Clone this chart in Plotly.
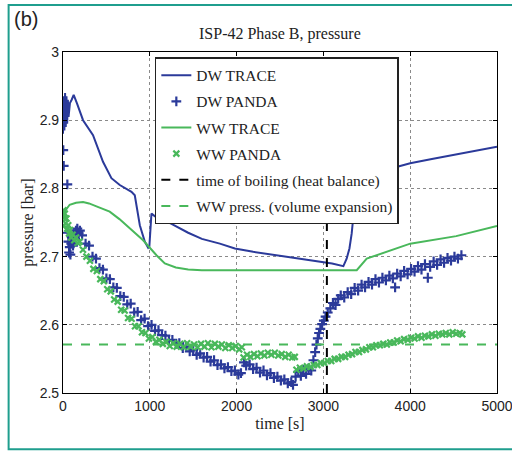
import plotly.graph_objects as go

# ---------------- data ----------------
DW_TRACE_T = [0, 8, 16, 24, 32, 40, 48, 56, 64, 80, 100, 123, 160, 231, 346, 461, 558, 654, 789, 827,
              885, 942, 981, 995, 1019, 1060, 1115, 1250, 1442, 1600, 1807, 1980, 2191, 2400, 2576,
              2800, 2999, 3100, 3230, 3268, 3300, 3326, 3364, 3400, 3450, 3600, 3800, 4000, 4250,
              4500, 4750, 5000]
DW_TRACE_P = [2.880, 2.935, 2.885, 2.940, 2.890, 2.935, 2.895, 2.930, 2.905, 2.925, 2.930, 2.937, 2.925,
              2.900, 2.878, 2.839, 2.815, 2.805, 2.795, 2.790, 2.746, 2.722, 2.713, 2.715, 2.763,
              2.759, 2.756, 2.748, 2.735, 2.726, 2.719, 2.712, 2.707, 2.703, 2.700, 2.696, 2.692,
              2.690, 2.686, 2.697, 2.712, 2.734, 2.783, 2.810, 2.817, 2.824, 2.830, 2.837, 2.843,
              2.849, 2.855, 2.861]

DW_PANDA_T = [3, 8, 50, 55, 62, 70, 78, 85, 95, 105, 115, 125, 140, 150, 165, 180, 195,
              220, 260, 300, 340, 380, 420, 460, 500, 540, 580, 620, 660, 700, 740, 780, 820, 860,
              900, 940, 980, 1020, 1060, 1100, 1140, 1180, 1220, 1260, 1300, 1340, 1380, 1420,
              1460, 1500, 1540, 1580, 1620, 1660, 1700, 1740, 1780, 1820, 1860, 1900, 1940, 1980,
              2020, 2050,
              2085, 2110, 2150, 2190, 2230, 2270, 2310, 2350, 2390, 2430, 2470, 2510, 2550, 2590,
              2630, 2650,
              2680, 2710, 2740, 2770, 2800, 2830, 2860, 2885, 2905, 2920, 2935, 2950, 2965, 2985,
              3005, 3025, 3050, 3080, 3110, 3140, 3170, 3200, 3240, 3280, 3320, 3360, 3400, 3440,
              3480, 3520, 3560, 3600, 3640, 3680, 3720, 3760, 3800, 3826, 3850, 3890, 3930, 3970,
              4010, 4050, 4090, 4130, 4170, 4203, 4230, 4270, 4310, 4350, 4390, 4430, 4470, 4510,
              4550, 4590]
DW_PANDA_P = [2.856, 2.833, 2.806, 2.735, 2.722, 2.706, 2.714, 2.703, 2.719, 2.728, 2.716, 2.733,
              2.726, 2.738, 2.741, 2.734, 2.738,
              2.731, 2.719, 2.716, 2.700, 2.697, 2.683, 2.681, 2.668, 2.667, 2.655, 2.654, 2.642,
              2.641, 2.630, 2.631, 2.618, 2.619, 2.607, 2.609, 2.598, 2.600, 2.591, 2.592, 2.585,
              2.584, 2.577, 2.578, 2.572, 2.573, 2.566, 2.568, 2.561, 2.563, 2.556, 2.558, 2.552,
              2.553, 2.546, 2.548, 2.541, 2.542, 2.536, 2.538, 2.532, 2.533, 2.527, 2.529,
              2.545, 2.540, 2.542, 2.535, 2.537, 2.530, 2.533, 2.526, 2.529, 2.522, 2.524, 2.518,
              2.520, 2.514, 2.516, 2.512,
              2.524, 2.531, 2.525, 2.534, 2.528, 2.536, 2.533, 2.548, 2.560, 2.571, 2.580, 2.588,
              2.594, 2.601, 2.606, 2.612, 2.618, 2.624, 2.632, 2.629, 2.638, 2.643, 2.640, 2.648,
              2.645, 2.654, 2.650, 2.659, 2.655, 2.663, 2.659, 2.667, 2.662, 2.669, 2.665, 2.672,
              2.668, 2.655, 2.675, 2.671, 2.679, 2.674, 2.682, 2.678, 2.686, 2.681, 2.689, 2.669,
              2.685, 2.693, 2.688, 2.696, 2.691, 2.698, 2.694, 2.700, 2.697, 2.702]

WW_TRACE_T = [0, 30, 77, 150, 231, 300, 400, 538, 650, 731, 830, 923, 1000, 1077, 1173, 1300, 1442,
              1600, 2000, 2500, 3000, 3384, 3499, 3730, 4000, 4530, 5000]
WW_TRACE_P = [2.758, 2.768, 2.776, 2.779, 2.780, 2.778, 2.773, 2.766, 2.755, 2.746, 2.735, 2.724,
              2.713, 2.702, 2.690, 2.684, 2.681, 2.680, 2.680, 2.680, 2.680, 2.680, 2.697, 2.707,
              2.719, 2.730, 2.745]

WW_PANDA_T = [0, 6, 12, 20, 30, 40, 50, 60, 70, 80, 95, 110, 130, 150, 170, 190,
              230, 270, 310, 350, 390, 430, 470, 510, 550, 590, 630, 670, 710, 750, 790, 830, 870,
              910, 950, 990, 1030, 1070, 1110, 1150, 1190, 1230, 1270, 1310, 1350, 1390, 1430,
              1470, 1510, 1550, 1590, 1630, 1670, 1710, 1750, 1790, 1830, 1870, 1910, 1950, 1990,
              2030, 2060,
              2080, 2120, 2160, 2200, 2240, 2280, 2320, 2360, 2400, 2440, 2480, 2520, 2560, 2600,
              2640, 2670,
              2690, 2730, 2770, 2810, 2850, 2890, 2930, 2970, 3010, 3050, 3090, 3130, 3170, 3210,
              3250, 3290, 3330, 3370, 3410, 3450, 3490, 3530, 3570, 3610, 3650, 3690, 3730, 3770,
              3810, 3850, 3890, 3930, 3970, 4010, 4050, 4090, 4130, 4170, 4210, 4250, 4290, 4330,
              4370, 4410, 4450, 4490, 4530, 4570, 4600]
WW_PANDA_P = [2.745, 2.768, 2.757, 2.763, 2.749, 2.756, 2.741, 2.746, 2.734, 2.739, 2.728, 2.732,
              2.724, 2.728, 2.720, 2.722,
              2.710, 2.700, 2.694, 2.682, 2.679, 2.667, 2.664, 2.652, 2.649, 2.637, 2.634, 2.622,
              2.621, 2.610, 2.609, 2.598, 2.598, 2.589, 2.588, 2.580, 2.582, 2.575, 2.578, 2.572,
              2.575, 2.569, 2.573, 2.568, 2.572, 2.567, 2.573, 2.568, 2.571, 2.567, 2.572, 2.568,
              2.573, 2.567, 2.572, 2.568, 2.571, 2.566, 2.570, 2.566, 2.569, 2.564, 2.567,
              2.552, 2.556, 2.553, 2.557, 2.554, 2.558, 2.555, 2.559, 2.556, 2.559, 2.555, 2.557,
              2.553, 2.556, 2.552, 2.553,
              2.534, 2.537, 2.536, 2.539, 2.538, 2.541, 2.541, 2.544, 2.544, 2.547, 2.547, 2.550,
              2.550, 2.553, 2.553, 2.556, 2.557, 2.560, 2.560, 2.563, 2.564, 2.567, 2.567, 2.570,
              2.570, 2.572, 2.571, 2.574, 2.574, 2.577, 2.576, 2.579, 2.578, 2.581, 2.580, 2.583,
              2.581, 2.584, 2.583, 2.586, 2.584, 2.587, 2.586, 2.588, 2.586, 2.589, 2.587, 2.588,
              2.586]

BOIL_T = [3040, 3040]
BOIL_P = [2.5, 3.0]
WW_EXP_T = [0, 5000]
WW_EXP_P = [2.571, 2.571]

X_TICKS = [0, 1000, 2000, 3000, 4000, 5000]
Y_TICKS = [2.5, 2.6, 2.7, 2.8, 2.9, 3.0]
Y_TICK_LABELS = ["2.5", "2.6", "2.7", "2.8", "2.9", "3"]

BLUE = "#2b3a9a"
GREEN = "#49b85b"
SERIF = "Liberation Serif"
SANS = "Liberation Sans"

# ---------------- figure ----------------
fig = go.Figure()
fig.add_trace(go.Scatter(x=DW_TRACE_T, y=DW_TRACE_P, mode="lines", name="DW TRACE",
                         legendgroup="a", line=dict(color=BLUE, width=2)))
fig.add_trace(go.Scatter(x=DW_PANDA_T, y=DW_PANDA_P, mode="markers", name="DW PANDA",
                         legendgroup="b",
                         marker=dict(symbol="cross-thin", size=7, color=BLUE,
                                     line=dict(color=BLUE, width=2.2))))
fig.add_trace(go.Scatter(x=WW_TRACE_T, y=WW_TRACE_P, mode="lines", name="WW TRACE",
                         legendgroup="c", line=dict(color=GREEN, width=2)))
fig.add_trace(go.Scatter(x=WW_PANDA_T, y=WW_PANDA_P, mode="markers", name="WW PANDA",
                         legendgroup="d",
                         marker=dict(symbol="x-thin", size=6, color=GREEN,
                                     line=dict(color=GREEN, width=2.2))))
fig.add_trace(go.Scatter(x=BOIL_T, y=BOIL_P, mode="lines", name="time of boiling (heat balance)",
                         legendgroup="e", line=dict(color="black", width=2, dash="dash")))
fig.add_trace(go.Scatter(x=WW_EXP_T, y=WW_EXP_P, mode="lines",
                         name="WW press. (volume expansion)",
                         legendgroup="f", line=dict(color=GREEN, width=2, dash="dash")))

axis_common = dict(showline=True, linecolor="black", linewidth=1.2, mirror="ticks",
                   ticks="inside", ticklen=4, tickcolor="black", automargin=False,
                   ticklabeloverflow="allow",
                   showgrid=True, gridcolor="#8a8a8a", griddash="dot", gridwidth=1,
                   zeroline=False, tickfont=dict(family=SANS, size=14, color="#222"))

fig.update_xaxes(range=[0, 5000], tickvals=X_TICKS,
                 title=dict(text="time [s]", font=dict(family=SERIF, size=16, color="#222"),
                            standoff=4),
                 **axis_common)
fig.update_yaxes(range=[2.5, 3.0], tickvals=Y_TICKS, ticktext=Y_TICK_LABELS,
                 title=dict(text="pressure [bar]", font=dict(family=SERIF, size=16, color="#222"),
                            standoff=2),
                 **axis_common)

fig.update_layout(
    width=512, height=452, autosize=False,
    margin=dict(l=63, r=15, t=52, b=59),
    paper_bgcolor="white", plot_bgcolor="white",
    showlegend=True,
    legend=dict(x=0.2116, y=0.985, xanchor="left", yanchor="top",
                bgcolor="white", bordercolor="#222", borderwidth=1.5,
                font=dict(family=SERIF, size=15.5, color="#222"),
                tracegroupgap=3, itemwidth=30),
    annotations=[
        dict(text="ISP-42 Phase B, pressure", xref="paper", yref="paper", x=0.5, y=1,
             yanchor="bottom", yshift=7, showarrow=False,
             font=dict(family=SERIF, size=16, color="#222")),
        dict(text="(b)", xref="paper", yref="paper", x=-0.118, y=1.135,
             xanchor="left", yanchor="top", showarrow=False,
             font=dict(family=SANS, size=20, color="#222")),
    ],
    shapes=[
        dict(type="rect", xref="paper", yref="paper", x0=-0.1253, x1=1.25, y0=-0.165, y1=1.138,
             line=dict(color="#1f9e8e", width=2), fillcolor="rgba(0,0,0,0)", layer="below"),
    ],
)

fig.write_html("out.html", config={"displayModeBar": False},
               post_script="document.body.style.margin='0';document.body.style.overflow='hidden';")
